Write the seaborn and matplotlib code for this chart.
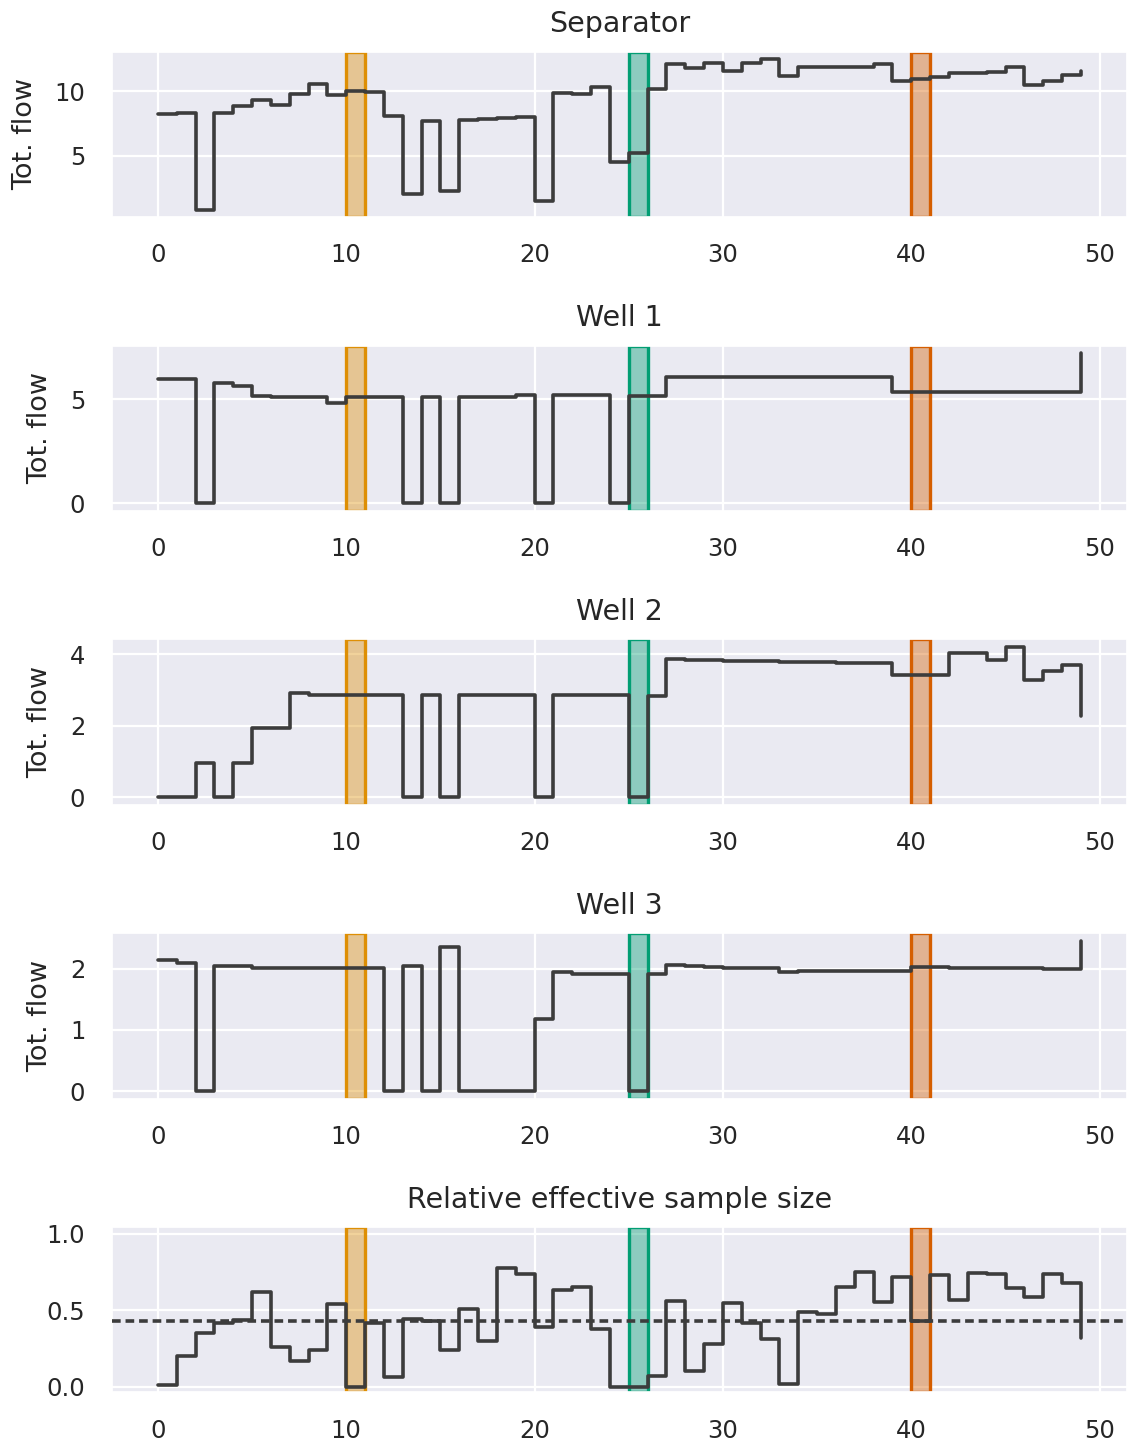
import numpy as np
import pandas as pd
import matplotlib
matplotlib.use("Agg")
import matplotlib.pyplot as plt
from matplotlib.colors import to_rgba
import seaborn as sns

# Time steps
steps = list(range(50))

# Total flow per unit
separator = [8.2, 8.3, 0.83, 8.29, 8.85, 9.3, 8.95, 9.8, 10.55, 9.7,
             10.0, 9.92, 8.04, 2.06, 7.71, 2.29, 7.79, 7.84, 7.92, 8.02,
             1.48, 9.87, 9.77, 10.28, 4.52, 5.2, 10.13, 12.06, 11.76, 12.14,
             11.56, 12.16, 12.46, 11.15, 11.85, 11.9, 11.85, 11.85, 12.08, 10.78,
             10.93, 11.1, 11.43, 11.36, 11.48, 11.88, 10.45, 10.8, 11.23, 11.56]
well1 = [5.96, 5.96, 0.0, 5.79, 5.64, 5.13, 5.12, 5.12, 5.12, 4.83,
         5.08, 5.08, 5.08, 0.0, 5.08, 0.0, 5.08, 5.08, 5.08, 5.19,
         0.0, 5.19, 5.19, 5.19, 0.0, 5.16, 5.16, 6.04, 6.04, 6.04,
         6.04, 6.04, 6.04, 6.04, 6.04, 6.04, 6.04, 6.04, 6.04, 5.34,
         5.35, 5.35, 5.35, 5.35, 5.35, 5.35, 5.35, 5.35, 5.36, 7.2]
well2 = [0.0, 0.0, 0.97, 0.0, 0.97, 1.94, 1.94, 2.90, 2.85, 2.85,
         2.87, 2.87, 2.86, 0.0, 2.86, 0.0, 2.86, 2.86, 2.86, 2.86,
         0.0, 2.85, 2.85, 2.85, 2.85, 0.0, 2.84, 3.86, 3.84, 3.83,
         3.82, 3.81, 3.80, 3.79, 3.78, 3.77, 3.76, 3.75, 3.74, 3.42,
         3.42, 3.42, 4.04, 4.03, 3.84, 4.2, 3.28, 3.54, 3.70, 2.28]
well3 = [2.14, 2.10, 0.0, 2.05, 2.04, 2.02, 2.01, 2.01, 2.01, 2.01,
         2.01, 2.01, 0.0, 2.05, 0.0, 2.35, 0.0, 0.0, 0.0, 0.0,
         1.18, 1.95, 1.91, 1.91, 1.91, 0.0, 1.91, 2.07, 2.04, 2.03,
         2.02, 2.01, 2.01, 1.95, 1.96, 1.96, 1.97, 1.97, 1.97, 1.97,
         2.03, 2.03, 2.01, 2.01, 2.01, 2.01, 2.02, 1.99, 1.99, 2.46]

# Relative effective sample size and resampling threshold
rel_ess = [0.01, 0.20, 0.35, 0.42, 0.435, 0.62, 0.26, 0.166, 0.24, 0.54,
           0.0, 0.42, 0.065, 0.44, 0.43, 0.24, 0.51, 0.30, 0.78, 0.74,
           0.39, 0.63, 0.655, 0.38, 0.0, 0.0, 0.07, 0.56, 0.10, 0.28,
           0.55, 0.42, 0.315, 0.02, 0.49, 0.475, 0.65, 0.75, 0.555, 0.72,
           0.43, 0.73, 0.57, 0.745, 0.74, 0.645, 0.59, 0.735, 0.68, 0.32]
ess_threshold = 0.43

# Highlighted intervals (start step, palette index)
highlight_starts = [10, 25, 40]
highlight_colors = [1, 2, 3]

titles = ["Separator", "Well 1", "Well 2", "Well 3",
          "Relative effective sample size"]
series = [separator, well1, well2, well3, rel_ess]
yticks = [[5, 10], [0, 5], [0, 2, 4], [0, 1, 2], [0.0, 0.5, 1.0]]

sns.set_theme(style="darkgrid", rc={
    "grid.linewidth": 1.6,
    "xtick.major.size": 0,
    "ytick.major.size": 0,
    "xtick.major.pad": 19,
    "ytick.major.pad": 19,
    "xtick.labelsize": 17.5,
    "ytick.labelsize": 17.5,
    "axes.labelsize": 19.5,
    "axes.titlesize": 20.5,
    "text.color": "#262626",
    "axes.labelcolor": "#262626",
    "xtick.color": "#262626",
    "ytick.color": "#262626",
})
palette = sns.color_palette("colorblind")
line_color = "#3c3c3c"
lw = 2.6

fig, axes = plt.subplots(5, 1, figsize=(11.27, 14.46), dpi=100)
fig.subplots_adjust(left=0.0991, right=1.0, top=0.9642, bottom=0.0371,
                    hspace=0.777)

for i, (ax, vals, title) in enumerate(zip(axes, series, titles)):
    df = pd.DataFrame({"step": steps, "value": vals})
    for start, ci in zip(highlight_starts, highlight_colors):
        c = palette[ci]
        ax.axvspan(start, start + 1, facecolor=to_rgba(c, 0.4),
                   edgecolor=c, linewidth=2.4, zorder=1)
    sns.lineplot(data=df, x="step", y="value", ax=ax, color=line_color,
                 linewidth=lw, drawstyle="steps-post", zorder=3)
    if i == 4:
        ax.axhline(ess_threshold, color=line_color, linewidth=lw,
                   linestyle=(0, (2.4, 1.35)), zorder=3)
        ax.set_ylim(-0.037, 1.045)
        ax.set_yticks(yticks[i])
        ax.set_yticklabels(["0.0", "0.5", "1.0"])
        ax.set_ylabel("")
    else:
        ax.set_yticks(yticks[i])
        ax.set_ylabel("Tot. flow", labelpad=12)
    ax.set_xticks([0, 10, 20, 30, 40, 50])
    ax.set_xlabel("")
    ax.set_title(title, pad=14)

fig.savefig("out.png", dpi=100)
